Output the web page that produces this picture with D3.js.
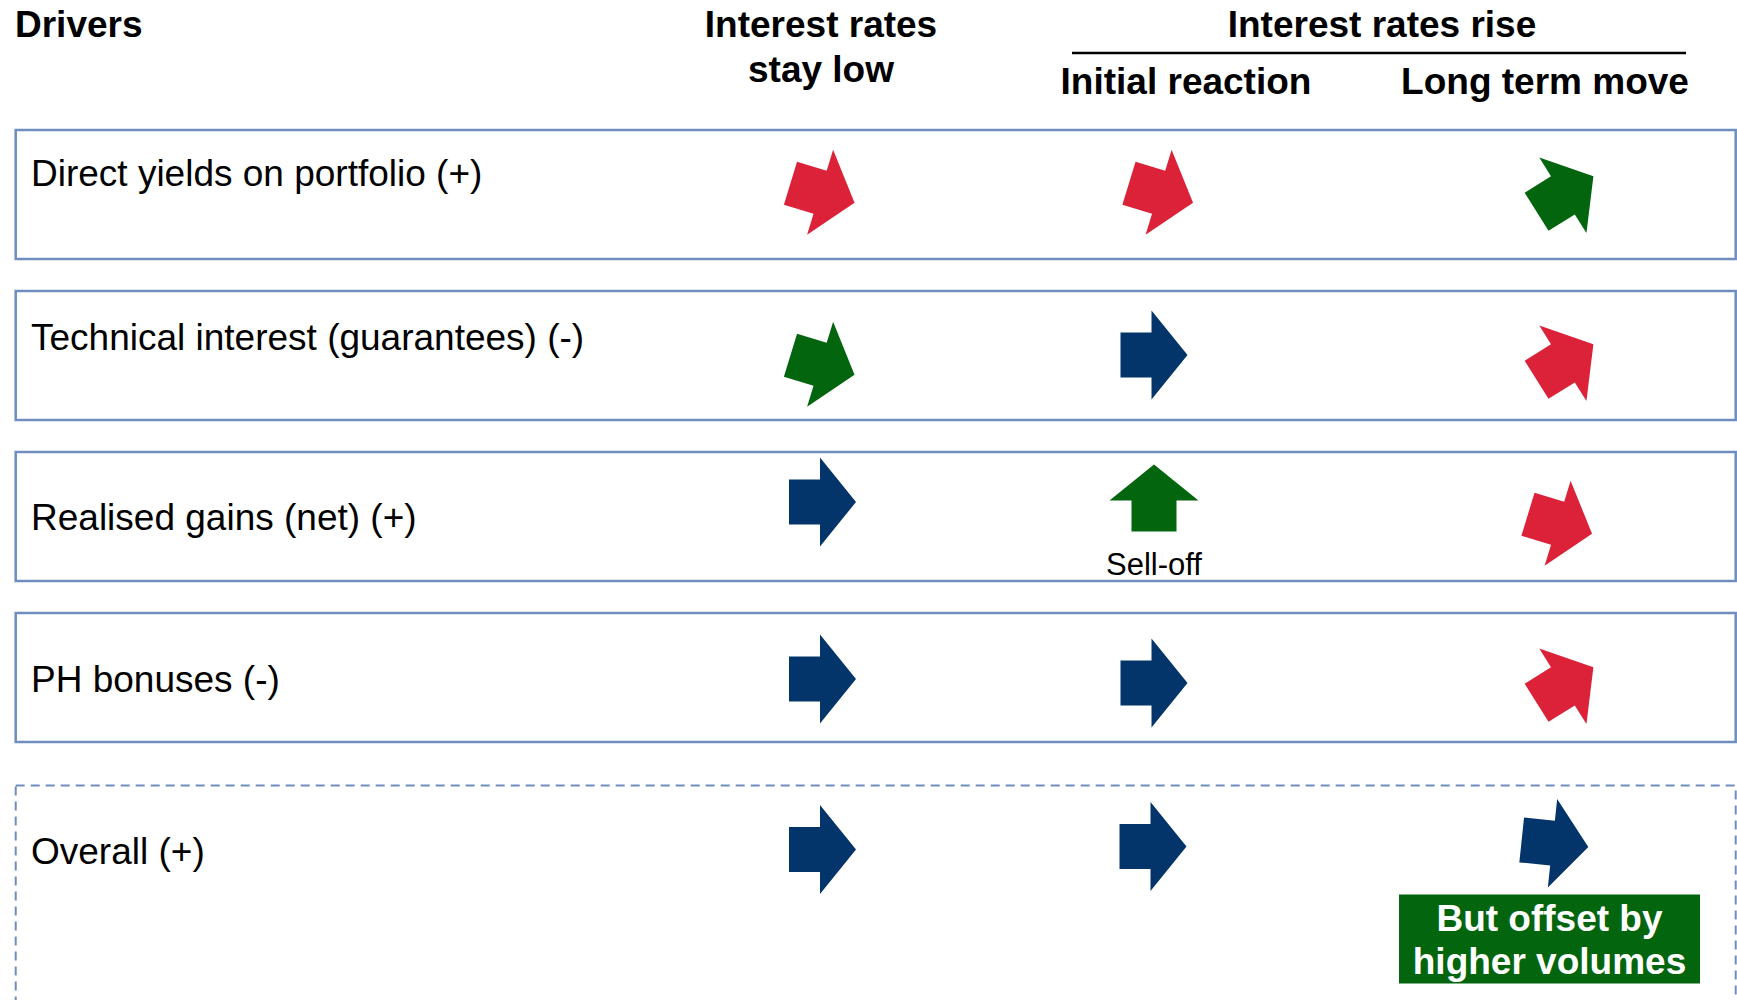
<!DOCTYPE html>
<html>
<head>
<meta charset="utf-8">
<title>Earnings drivers under interest-rate scenarios</title>
<script src="https://cdn.jsdelivr.net/npm/d3@7"></script>
<style>
  html, body { margin: 0; padding: 0; background: #ffffff; }
  svg { display: block; font-family: "Liberation Sans", Arial, Helvetica, sans-serif; }
</style>
</head>
<body>
<svg id="chart" width="1737" height="1000"></svg>
<script>
// ---- data ---------------------------------------------------------------
const drivers = [
  "Direct yields on portfolio (+)",
  "Technical interest (guarantees) (-)",
  "Realised gains (net) (+)",
  "PH bonuses (-)",
  "Overall (+)"
];
const scenarios = ["stayLow", "initialReaction", "longTermMove"];
const scenarioHeaders = [["Interest rates", "stay low"], ["Initial reaction"], ["Long term move"]];
const groupHeader = "Interest rates rise";
const driversHeader = "Drivers";

// direction of each arrow in degrees (0 = flat, negative = upward, positive = downward)
const arrowDirection = [
  [17, 17, -32],
  [17, 0, -32],
  [0, -90, 17],
  [0, 0, -32],
  [0, 0, 6]
];
// effect of each move on earnings
const arrowEffect = [
  ["negative", "negative", "positive"],
  ["positive", "neutral", "negative"],
  ["neutral", "positive", "negative"],
  ["neutral", "neutral", "negative"],
  ["neutral", "neutral", "neutral"]
];
const cellNotes = [{ row: 2, col: 1, text: "Sell-off" }];
const overallNote = ["But offset by", "higher volumes"];

// ---- layout -------------------------------------------------------------
const W = 1737, H = 1000;
const FONT = 37;
const colour = d3.scaleOrdinal()
  .domain(["negative", "positive", "neutral"])
  .range(["#dc2239", "#04650f", "#03346a"]);

const svg = d3.select("#chart");

// row tops: four solid boxes, then the dashed "overall" box after a wider gap
const rowStep = 161, boxH = 129, firstTop = 130, overallGap = 11.5;
const rowTop = i => firstTop + rowStep * i + (i === drivers.length - 1 ? overallGap : 0);
const col = d3.scaleOrdinal().domain(scenarios).range([822.5, 1154, 1561]);

// small per-cell adjustments of the arrows inside their cell
const arrowDx = [
  [0, 7, 4],
  [0, 0, 4],
  [0, 0, -1],
  [0, 0, 4],
  [0, -1, -6]
];
const arrowDy = [
  [63, 63, 64],
  [74, 64, 71],
  [50, 46, 72],
  [66, 70, 72],
  [64, 61, 58]
];
const labelDy = [56, 59, 78, 79, 78];

// ---- header -------------------------------------------------------------
const head = svg.append("g").attr("font-weight", "bold").attr("font-size", FONT).attr("fill", "#000");
head.append("text").attr("x", 15).attr("y", 37).text(driversHeader);

head.append("text").attr("x", 821).attr("text-anchor", "middle")
  .selectAll("tspan").data(scenarioHeaders[0]).join("tspan")
  .attr("x", 821).attr("y", (d, i) => 37 + i * 45).text(d => d);

head.append("text").attr("x", 1382).attr("y", 37).attr("text-anchor", "middle").text(groupHeader);
svg.append("line").attr("x1", 1072).attr("x2", 1686).attr("y1", 53).attr("y2", 53)
  .attr("stroke", "#000").attr("stroke-width", 2.5);
head.append("text").attr("x", 1186).attr("y", 94).attr("text-anchor", "middle").text(scenarioHeaders[1][0]);
head.append("text").attr("x", 1545).attr("y", 94).attr("text-anchor", "middle").text(scenarioHeaders[2][0]);

// ---- row boxes ----------------------------------------------------------
const rows = svg.append("g").selectAll("g").data(drivers).join("g")
  .attr("transform", (d, i) => `translate(0,${rowTop(i)})`);

rows.append("rect")
  .attr("x", 15.7).attr("y", 0)
  .attr("width", 1720)
  .attr("height", (d, i) => i === drivers.length - 1 ? H : boxH)
  .attr("fill", "none")
  .attr("stroke", "#6f8ebd")
  .attr("stroke-width", (d, i) => i === drivers.length - 1 ? 2 : 2.5)
  .attr("stroke-dasharray", (d, i) => i === drivers.length - 1 ? "9,6" : null);

rows.append("text")
  .attr("x", 31).attr("y", (d, i) => labelDy[i])
  .attr("font-size", FONT).attr("fill", "#000")
  .text(d => d);

// ---- arrows -------------------------------------------------------------
// block arrow pointing right, centred on the origin
const bodyLen = 31, headLen = 36, bodyHalf = 22.5, headHalf = 44.5;
const x0 = -(bodyLen + headLen) / 2, xh = x0 + bodyLen, xt = x0 + bodyLen + headLen;
const arrowShape = [
  [x0, -bodyHalf], [xh, -bodyHalf], [xh, -headHalf], [xt, 0],
  [xh, headHalf], [xh, bodyHalf], [x0, bodyHalf]
];
const arrowLine = d3.line();

const cells = [];
drivers.forEach((d, r) => scenarios.forEach((s, c) => cells.push({
  r, c, s, angle: arrowDirection[r][c], effect: arrowEffect[r][c]
})));

svg.append("g").selectAll("path").data(cells).join("path")
  .attr("d", arrowLine(arrowShape) + "Z")
  .attr("transform", d =>
    `translate(${col(d.s) + arrowDx[d.r][d.c]},${rowTop(d.r) + arrowDy[d.r][d.c]}) rotate(${d.angle})`)
  .attr("fill", d => colour(d.effect));

// ---- notes --------------------------------------------------------------
svg.append("g").selectAll("text").data(cellNotes).join("text")
  .attr("x", d => col(scenarios[d.col]))
  .attr("y", d => rowTop(d.row) + 122.5)
  .attr("text-anchor", "middle")
  .attr("font-size", 31).attr("fill", "#000")
  .text(d => d.text);

const noteG = svg.append("g");
const noteTop = rowTop(drivers.length - 1) + 109;
noteG.append("rect")
  .attr("x", 1399).attr("y", noteTop).attr("width", 301).attr("height", 89)
  .attr("fill", colour("positive"));
noteG.append("text")
  .attr("text-anchor", "middle").attr("font-weight", "bold")
  .attr("font-size", FONT).attr("fill", "#fff")
  .selectAll("tspan").data(overallNote).join("tspan")
  .attr("x", 1549.5).attr("y", (d, i) => noteTop + 36 + i * 43)
  .text(d => d);
</script>
</body>
</html>
